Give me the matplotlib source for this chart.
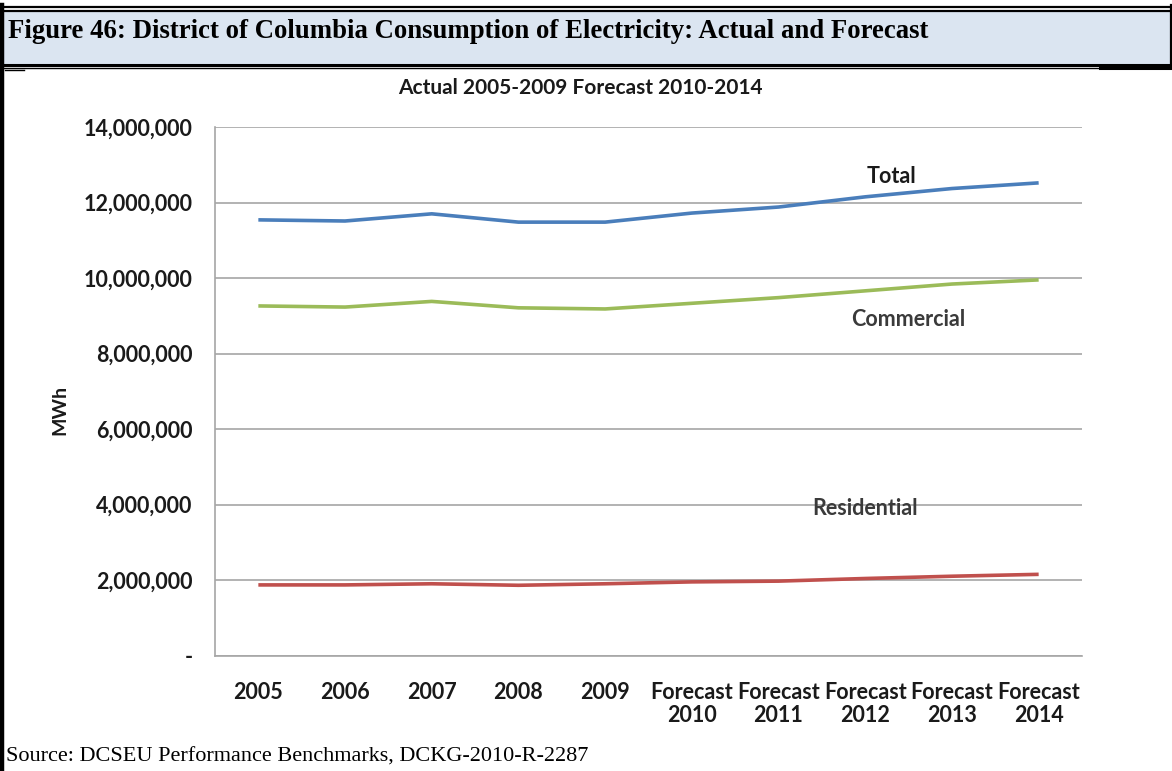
import matplotlib
matplotlib.use("Agg")
import matplotlib.pyplot as plt
from matplotlib.patches import Rectangle
from matplotlib.lines import Line2D
from matplotlib.ticker import FuncFormatter

W, H = 1172, 771

categories = ["2005", "2006", "2007", "2008", "2009",
              "Forecast\n2010", "Forecast\n2011", "Forecast\n2012",
              "Forecast\n2013", "Forecast\n2014"]
total = [11.54e6, 11.51e6, 11.70e6, 11.48e6, 11.48e6,
         11.72e6, 11.88e6, 12.15e6, 12.37e6, 12.52e6]
commercial = [9.26e6, 9.23e6, 9.38e6, 9.21e6, 9.18e6,
              9.33e6, 9.48e6, 9.66e6, 9.84e6, 9.95e6]
residential = [1.87e6, 1.87e6, 1.90e6, 1.86e6, 1.90e6,
               1.95e6, 1.97e6, 2.04e6, 2.10e6, 2.15e6]

LABEL_FONT = "Lato"


def fx(x):
    return x / W


def fy(y):
    return 1 - y / H


fig = plt.figure(figsize=(W / 100, H / 100), dpi=100)
fig.patch.set_facecolor("white")

# caption box
fig.patches.append(Rectangle((fx(3), fy(64)), fx(1169), 54 / H, transform=fig.transFigure,
                             facecolor="#dbe5f1", edgecolor="none", zorder=0))
for y, lw, x0, x1 in [(7, 1.6, 0, W), (10.5, 1.6, 0, W), (64.5, 2.2, 0, W),
                      (67.5, 1.0, 0, 1100), (68, 2.2, 1100, W), (69.5, 1.0, 5, 24)]:
    fig.lines.append(Line2D([fx(x0), fx(x1)], [fy(y), fy(y)], transform=fig.transFigure,
                            color="black", lw=lw))
fig.lines.append(Line2D([fx(2), fx(2)], [fy(5), fy(H)], transform=fig.transFigure,
                        color="black", lw=3.2))
fig.lines.append(Line2D([fx(1170.5), fx(1170.5)], [fy(5), fy(66)], transform=fig.transFigure,
                        color="black", lw=1.6))

fig.text(fx(8), fy(31), "Figure 46: District of Columbia Consumption of Electricity: Actual and Forecast",
         family="Liberation Serif", weight="bold", fontsize=19.3, va="center", ha="left")
fig.text(fx(6), fy(757), "Source: DCSEU Performance Benchmarks, DCKG-2010-R-2287",
         family="Liberation Serif", fontsize=16, va="center", ha="left")

ax = fig.add_axes([fx(215), fy(655.5), fx(1082 - 215), (655.5 - 127) / H])
x = list(range(len(categories)))
ax.plot(x, total, color="#4a7ebb", lw=2.6, solid_capstyle="butt")
ax.plot(x, commercial, color="#9bbb59", lw=2.6, solid_capstyle="butt")
ax.plot(x, residential, color="#c0504d", lw=2.6, solid_capstyle="butt")

ax.set_xlim(-0.5, len(categories) - 0.5)
ax.set_ylim(0, 14e6)
ax.set_yticks(range(0, 14000001, 2000000))
ax.yaxis.set_major_formatter(FuncFormatter(lambda v, p: "-" if v == 0 else f"{int(v):,}"))
ax.set_xticks(x)
ax.set_xticklabels(categories)
ax.grid(axis="y", color="#a6a6a6", lw=1.2)
ax.set_axisbelow(True)
for side in ["top", "right"]:
    ax.spines[side].set_visible(False)
for side in ["left", "bottom"]:
    ax.spines[side].set_color("#a6a6a6")
    ax.spines[side].set_linewidth(1.2)
ax.tick_params(length=0, labelsize=15.5, labelcolor="#1a1a1a")
ax.tick_params(axis="y", pad=16)
ax.tick_params(axis="x", pad=19)
for lab in ax.get_xticklabels() + ax.get_yticklabels():
    lab.set_family(LABEL_FONT)
    lab.set_weight("bold")
    lab.set_linespacing(1.15)

fig.text(fx(60), fy(410), "MWh", family=LABEL_FONT, weight="bold", fontsize=14,
         rotation=90, ha="center", va="center", color="#1a1a1a")
fig.text(fx(580), fy(88), "Actual 2005-2009 Forecast 2010-2014", family=LABEL_FONT,
         weight="bold", fontsize=15, ha="center", va="center", color="#1a1a1a")

ax.text(7.3, 12.7e6, "Total", family=LABEL_FONT, weight="bold", fontsize=15.5,
        ha="center", va="center", color="#1a1a1a")
ax.text(7.5, 8.9e6, "Commercial", family=LABEL_FONT, weight="bold", fontsize=15.5,
        ha="center", va="center", color="#3a3a3a")
ax.text(7.0, 3.9e6, "Residential", family=LABEL_FONT, weight="bold", fontsize=15.5,
        ha="center", va="center", color="#3a3a3a")

fig.savefig("out.png", dpi=100)
